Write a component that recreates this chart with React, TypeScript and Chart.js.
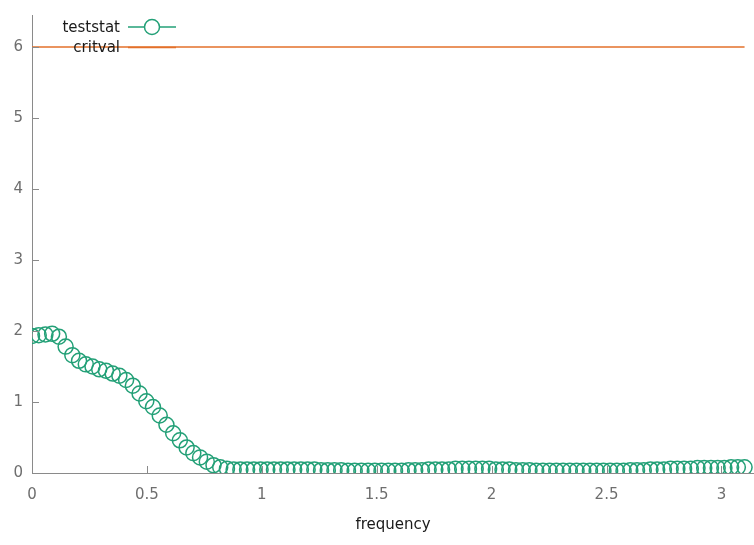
import React, { useEffect, useRef } from "react";
import { Chart, registerables } from "chart.js";

Chart.register(...registerables);

// frequency grid step (sampling spacing of the frequencies)
const freqStep = 0.02925;

const teststat: number[] = [
  1.93, 1.94, 1.95, 1.96, 1.92, 1.78, 1.66, 1.58, 1.53, 1.5,
  1.46, 1.44, 1.4, 1.37, 1.31, 1.23, 1.12, 1.01, 0.93, 0.81,
  0.68, 0.56, 0.46, 0.36, 0.28, 0.22, 0.16, 0.11, 0.08, 0.06,
  0.05, 0.05, 0.05, 0.05, 0.05, 0.05, 0.05, 0.05, 0.05, 0.05,
  0.05, 0.05, 0.05, 0.04, 0.04, 0.04, 0.04, 0.03, 0.03, 0.03,
  0.03, 0.03, 0.03, 0.03, 0.03, 0.03, 0.04, 0.04, 0.04, 0.05,
  0.05, 0.05, 0.05, 0.06, 0.06, 0.06, 0.06, 0.06, 0.06, 0.05,
  0.05, 0.05, 0.04, 0.04, 0.04, 0.03, 0.03, 0.03, 0.03, 0.03,
  0.03, 0.03, 0.03, 0.03, 0.03, 0.03, 0.03, 0.03, 0.03, 0.04,
  0.04, 0.04, 0.05, 0.05, 0.05, 0.06, 0.06, 0.06, 0.06, 0.07,
  0.07, 0.07, 0.07, 0.07, 0.08, 0.08, 0.08,
];

const critvalLevel = 6;

const frequencies: number[] = teststat.map((_, k) => k * freqStep);
const critval: number[] = frequencies.map(() => critvalLevel);

const xTickValues = [0, 0.5, 1, 1.5, 2, 2.5, 3];
const yTickValues = [0, 1, 2, 3, 4, 5, 6];

const GREEN = "#23a077";
const ORANGE = "#e3702a";
const AXIS = "#8a8a8a";
const TICKTEXT = "#6e6e6e";
const FONT = "DejaVu Sans";

const inwardTicks = {
  id: "inwardTicks",
  afterDraw(chart: any) {
    const { ctx, chartArea, scales } = chart;
    ctx.save();
    ctx.strokeStyle = AXIS;
    ctx.lineWidth = 1;
    const len = 7;
    ctx.beginPath();
    scales.x.ticks.forEach((t: any) => {
      const px = Math.round(scales.x.getPixelForValue(t.value)) + 0.5;
      ctx.moveTo(px, chartArea.bottom);
      ctx.lineTo(px, chartArea.bottom - len);
    });
    scales.y.ticks.forEach((t: any) => {
      const py = Math.round(scales.y.getPixelForValue(t.value)) + 0.5;
      ctx.moveTo(chartArea.left, py);
      ctx.lineTo(chartArea.left + len, py);
    });
    ctx.stroke();
    ctx.restore();
  },
};

const keyPlugin = {
  id: "gnuKey",
  afterDraw(chart: any) {
    const { ctx } = chart;
    const textRight = 120;
    const sx0 = 128;
    const sx1 = 176;
    const rows = [27, 47.5];
    ctx.save();
    chart.data.datasets.forEach((ds: any, i: number) => {
      const y = rows[i];
      ctx.font = `15px "${FONT}"`;
      ctx.fillStyle = "#1a1a1a";
      ctx.textAlign = "right";
      ctx.textBaseline = "middle";
      ctx.fillText(ds.label, textRight, y + 1);
      ctx.strokeStyle = ds.borderColor;
      ctx.lineWidth = 1.5;
      ctx.beginPath();
      ctx.moveTo(sx0, y);
      ctx.lineTo(sx1, y);
      ctx.stroke();
      if (ds.pointRadius > 0) {
        ctx.beginPath();
        ctx.fillStyle = "#ffffff";
        ctx.arc((sx0 + sx1) / 2, y, ds.pointRadius, 0, Math.PI * 2);
        ctx.fill();
        ctx.stroke();
      }
    });
    ctx.restore();
  },
};

export default function App() {
  const canvasRef = useRef<HTMLCanvasElement | null>(null);

  useEffect(() => {
    if (!canvasRef.current) return;
    const chart = new Chart(canvasRef.current, {
      type: "scatter",
      data: {
        datasets: [
          {
            label: "teststat",
            data: frequencies.map((f, i) => ({ x: f, y: teststat[i] })),
            showLine: false,
            borderColor: GREEN,
            backgroundColor: "rgba(0,0,0,0)",
            pointStyle: "circle",
            pointRadius: 7.5,
            pointBorderWidth: 1.5,
            pointBorderColor: GREEN,
            pointBackgroundColor: "rgba(0,0,0,0)",
          },
          {
            label: "critval",
            data: frequencies.map((f, i) => ({ x: f, y: critval[i] })),
            showLine: true,
            borderColor: ORANGE,
            borderWidth: 1.5,
            pointRadius: 0,
            backgroundColor: "rgba(0,0,0,0)",
          },
        ],
      },
      options: {
        animation: false,
        responsive: false,
        maintainAspectRatio: false,
        layout: { autoPadding: false, padding: { top: 15, right: 0, left: 0, bottom: 0 } },
        plugins: {
          legend: { display: false },
          tooltip: { enabled: false },
        },
        scales: {
          x: {
            type: "linear",
            min: 0,
            max: Math.PI,
            afterBuildTicks: (scale: any) => {
              scale.ticks = xTickValues.map((v) => ({ value: v }));
            },
            afterFit: (scale: any) => {
              scale.height = 72;
              scale.paddingLeft = 0;
              scale.paddingRight = 0;
            },
            ticks: {
              padding: 13,
              color: TICKTEXT,
              font: { family: FONT, size: 15 },
              maxRotation: 0,
              autoSkip: false,
              callback: (v: any) => String(v),
            },
            grid: { display: true, drawOnChartArea: false, drawTicks: false },
            border: { display: true, color: AXIS, width: 1 },
            title: {
              display: true,
              text: "frequency",
              color: "#1a1a1a",
              font: { family: FONT, size: 15 },
              padding: { top: 0, bottom: 11 },
            },
          },
          y: {
            type: "linear",
            min: 0,
            max: 6.45,
            afterBuildTicks: (scale: any) => {
              scale.ticks = yTickValues.map((v) => ({ value: v }));
            },
            afterFit: (scale: any) => {
              scale.width = 32;
              scale.paddingTop = 0;
              scale.paddingBottom = 0;
            },
            ticks: {
              padding: 9,
              color: TICKTEXT,
              font: { family: FONT, size: 15 },
              autoSkip: false,
              callback: (v: any) => String(v),
            },
            grid: { display: true, drawOnChartArea: false, drawTicks: false },
            border: { display: true, color: AXIS, width: 1 },
          },
        },
      },
      plugins: [inwardTicks, keyPlugin],
    });
    return () => chart.destroy();
  }, []);

  return (
    <div
      style={{
        position: "fixed",
        left: 0,
        top: 0,
        width: 754,
        height: 545,
        background: "#ffffff",
      }}
    >
      <canvas ref={canvasRef} width={754} height={545} style={{ width: 754, height: 545 }} />
    </div>
  );
}
